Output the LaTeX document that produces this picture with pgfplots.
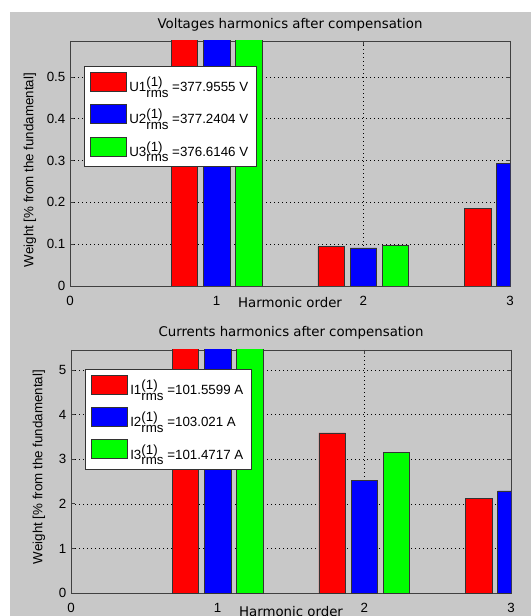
\documentclass[border=0pt]{standalone}
\usepackage{fontspec}
\setmainfont{Liberation Sans}
\newfontfamily\dejavu{DejaVu Sans}
\usepackage{pgfplots}
\pgfplotsset{compat=1.18}
\definecolor{figgrey}{RGB}{200,200,200}
\newcommand\supsub[2]{\rlap{\raisebox{3.75pt}{#1}}\raisebox{-4.3pt}{#2}}
\pgfplotsset{
 mstyle/.style={
  scale only axis, width=330pt, anchor=south west,
  xmin=0, xmax=3, ymin=0,
  xtick={0,1,2,3},
  tick align=inside, tick pos=both,
  major tick length=3pt,
  axis line style={black!75, line width=0.6pt},
  every tick/.style={black!75, line width=0.6pt},
  grid=major,
  major grid style={black, dash pattern=on 0.6pt off 2.4pt, line width=0.45pt},
  /pgf/number format/assume math mode=true,
  /pgf/number format/fixed,
  tick label style={font=\fontsize{10}{12}\selectfont},
  xticklabel style={yshift=-4pt},
  xlabel style={font=\dejavu\fontsize{10}{12}\selectfont, anchor=center},
  ylabel style={font=\fontsize{10}{12}\selectfont, anchor=center},
  legend image code/.code={\draw[##1,draw=black!80,line width=0.6pt] (0pt,-4.5pt) rectangle (27pt,9.75pt);},
  legend style={draw=black!80, fill=white, line width=0.6pt, font=\fontsize{10}{12}\selectfont, row sep=6pt, inner xsep=4pt, inner ysep=4pt},
  legend cell align=left,
  bar width=0.18,
 },
 rb/.style={ybar, fill=red, draw=black!80, line width=0.5pt, bar shift=-0.22},
 bb/.style={ybar, fill=blue, draw=black!80, line width=0.5pt, bar shift=0},
 gb/.style={ybar, fill=green, draw=black!80, line width=0.5pt, bar shift=0.22},
}
\begin{document}
\begin{tikzpicture}
\fill[white] (0,0) rectangle (398.25pt,462pt);
\fill[figgrey] (7.5pt,0) rectangle (398.25pt,453pt);
\useasboundingbox (0,0) rectangle (398.25pt,462pt);
\begin{axis}[mstyle, height=183.75pt, at={(52.5pt,247.5pt)},
  ymax=0.586, ytick={0,0.1,0.2,0.3,0.4,0.5},
  title={Voltages harmonics after compensation},
  every axis title/.style={at={(axis description cs:0.5,1)}, anchor=base, yshift=9pt, font=\dejavu\fontsize{10}{12}\selectfont},
  xlabel={Harmonic order}, xlabel style={at={(axis description cs:0.5,-0.069)}},
  ylabel={Weight [\% from the fundamental]}, ylabel style={at={(axis description cs:-0.091,0.473)}},
  legend style={at={(0.032,0.898)}, anchor=north west}]
\addplot[rb] coordinates {(1,1) (2,0.094) (3,0.186)};
\addplot[bb] coordinates {(1,1) (2,0.091) (3,0.293)};
\addplot[gb] coordinates {(1,1) (2,0.098)};
\legend{U1\supsub{(1)}{rms} =377.9555 V, U2\supsub{(1)}{rms} =377.2404 V, U3\supsub{(1)}{rms} =376.6146 V}
\end{axis}
\begin{axis}[mstyle, height=182.25pt, at={(53.25pt,17.25pt)},
  ymax=5.45, ytick={0,1,2,3,4,5},
  title={Currents harmonics after compensation},
  every axis title/.style={at={(axis description cs:0.5,1)}, anchor=base, yshift=9.75pt, font=\dejavu\fontsize{10}{12}\selectfont},
  xlabel={Harmonic order}, xlabel style={at={(axis description cs:0.5,-0.078)}},
  ylabel={Weight [\% from the fundamental]}, ylabel style={at={(axis description cs:-0.073,0.518)}},
  legend style={at={(0.032,0.922)}, anchor=north west}]
\addplot[rb] coordinates {(1,10) (2,3.59) (3,2.12)};
\addplot[bb] coordinates {(1,10) (2,2.53) (3,2.29)};
\addplot[gb] coordinates {(1,10) (2,3.15)};
\legend{I1\supsub{(1)}{rms} =101.5599 A, I2\supsub{(1)}{rms} =103.021 A, I3\supsub{(1)}{rms} =101.4717 A}
\end{axis}
\end{tikzpicture}
\end{document}
